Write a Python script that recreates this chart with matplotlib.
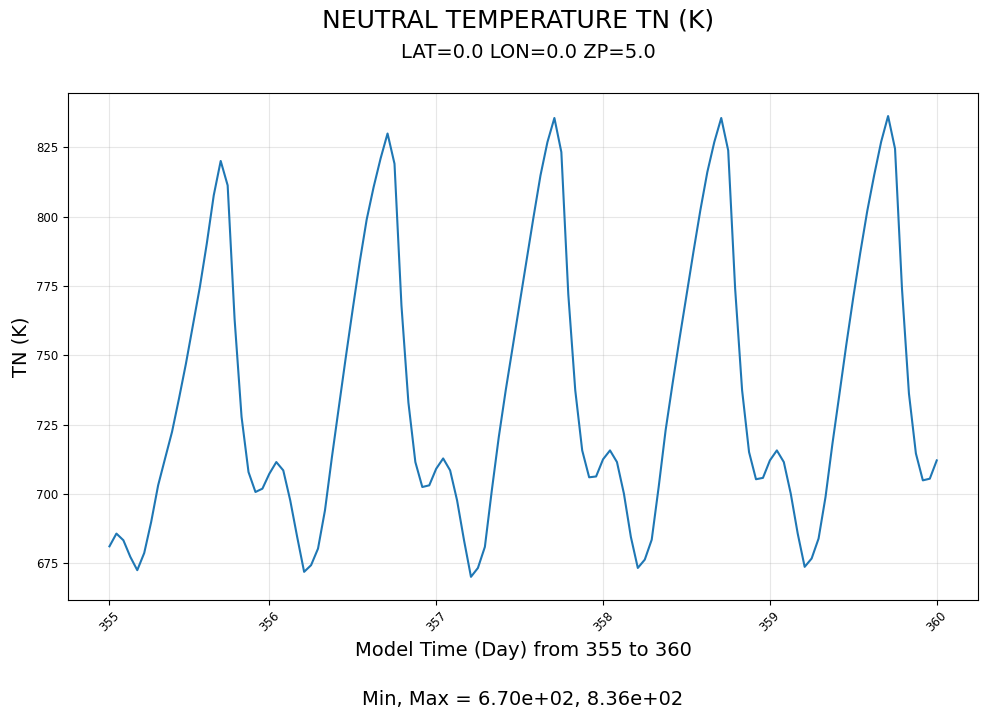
import numpy as np
import matplotlib
matplotlib.use("Agg")
import matplotlib.pyplot as plt

# Hourly neutral temperature (K), one list per model day
tn_day355 = [681.1, 685.7, 683.3, 677.3, 672.5, 678.7, 689.9, 703.1, 712.8, 722.4, 734.4, 747.0,
             760.8, 774.6, 790.3, 807.7, 820.1, 811.3, 763.0, 727.8, 707.9, 700.7, 701.9, 707.3]
tn_day356 = [711.5, 708.5, 697.7, 684.5, 671.9, 674.3, 680.3, 694.1, 713.3, 731.4, 749.4, 766.8,
             783.7, 799.0, 810.7, 821.0, 830.0, 819.1, 768.0, 733.0, 711.5, 702.5, 703.1, 709.1]
tn_day357 = [712.8, 708.5, 697.7, 683.3, 670.1, 673.3, 680.9, 701.3, 720.5, 737.4, 753.0, 768.7,
             784.3, 799.9, 814.9, 826.9, 835.6, 823.3, 772.0, 737.4, 715.7, 706.0, 706.3, 712.5]
tn_day358 = [715.7, 711.5, 700.1, 684.5, 673.3, 676.3, 683.5, 702.5, 723.0, 739.8, 756.0, 771.6,
             787.3, 802.4, 816.1, 826.9, 835.6, 823.9, 774.0, 737.4, 715.1, 705.3, 705.8, 712.1]
tn_day359 = [715.7, 711.5, 700.1, 685.7, 673.7, 676.7, 683.9, 698.9, 718.2, 736.0, 754.0, 771.0,
             787.0, 802.0, 815.0, 827.0, 836.3, 824.5, 774.0, 736.2, 714.6, 704.9, 705.5, 712.1]

# sample index where each day label sits on the x axis
tick_idx = [0, 23, 47, 71, 95, 119]
tick_days = [355, 356, 357, 358, 359, 360]

tn = np.array(tn_day355 + tn_day356 + tn_day357 + tn_day358 + tn_day359)
idx = np.arange(len(tn))

fig, ax = plt.subplots(figsize=(9.87, 7.21), dpi=100)
fig.subplots_adjust(left=0.069, right=0.991, top=0.871, bottom=0.168)

ax.plot(idx, tn, color="#1f77b4", linewidth=1.5)
ax.grid(True, alpha=0.3)

ax.set_xticks(tick_idx)
ax.set_xticklabels([str(d) for d in tick_days], rotation=45)
ax.tick_params(axis="both", labelsize=8.5)

ax.set_ylabel("TN (K)", fontsize=14)
ax.set_xlabel(f"Model Time (Day) from {tick_days[0]} to {tick_days[-1]}", fontsize=14, labelpad=5)

ax.text(0.495, 1.144, "NEUTRAL TEMPERATURE TN (K)", transform=ax.transAxes,
        ha="center", va="center", fontsize=18)
ax.text(0.506, 1.079, "LAT=0.0 LON=0.0 ZP=5.0", transform=ax.transAxes,
        ha="center", va="center", fontsize=14)
ax.text(0.5, -0.196, f"Min, Max = {tn.min():.2e}, {tn.max():.2e}", transform=ax.transAxes,
        ha="center", va="center", fontsize=14)

fig.savefig("out.png", dpi=100)
plt.close()
